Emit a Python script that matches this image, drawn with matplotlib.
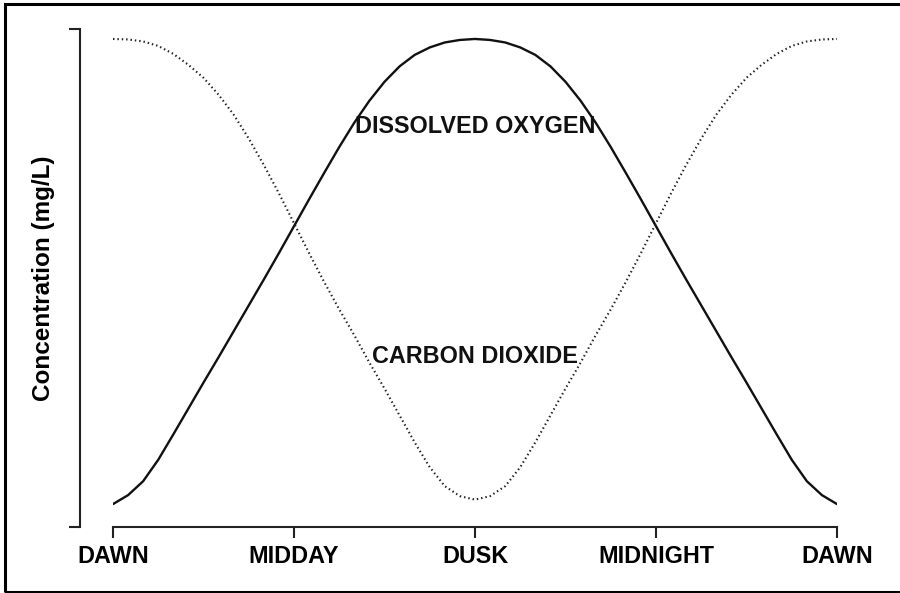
import matplotlib
matplotlib.use("Agg")
import matplotlib.pyplot as plt
from matplotlib.patches import Rectangle

plt.rcParams['font.family'] = ['Liberation Sans', 'DejaVu Sans']

# hours after dawn, every half hour
hours = [0, 0.5, 1.0, 1.5, 2.0, 2.5, 3.0, 3.5, 4.0, 4.5, 5.0, 5.5, 6.0, 6.5, 7.0, 7.5,
         8.0, 8.5, 9.0, 9.5, 10.0, 10.5, 11.0, 11.5, 12.0,
         12.5, 13.0, 13.5, 14.0, 14.5, 15.0, 15.5, 16.0, 16.5, 17.0, 17.5, 18.0,
         18.5, 19.0, 19.5, 20.0, 20.5, 21.0, 21.5, 22.0, 22.5, 23.0, 23.5, 24.0]

# relative concentration
oxygen = [0.46, 0.64, 0.92, 1.35, 1.86, 2.38, 2.90, 3.41, 3.93, 4.45, 4.97, 5.50, 6.04,
          6.58, 7.11, 7.63, 8.12, 8.56, 8.94, 9.25, 9.48, 9.63, 9.73, 9.78, 9.80,
          9.78, 9.73, 9.63, 9.48, 9.25, 8.94, 8.56, 8.12, 7.63, 7.11, 6.58, 6.04,
          5.50, 4.97, 4.45, 3.93, 3.41, 2.90, 2.38, 1.86, 1.35, 0.92, 0.64, 0.46]

co2 = [9.80, 9.79, 9.75, 9.66, 9.50, 9.28, 9.02, 8.68, 8.28, 7.80, 7.27, 6.70, 6.10,
       5.50, 4.92, 4.37, 3.85, 3.30, 2.78, 2.24, 1.70, 1.20, 0.82, 0.62, 0.55,
       0.62, 0.82, 1.20, 1.70, 2.24, 2.78, 3.30, 3.85, 4.37, 4.92, 5.50, 6.10,
       6.70, 7.27, 7.80, 8.28, 8.68, 9.02, 9.28, 9.50, 9.66, 9.75, 9.79, 9.80]

tick_hours = [0, 6, 12, 18, 24]
tick_labels = ["DAWN", "MIDDAY", "DUSK", "MIDNIGHT", "DAWN"]

W, H = 900, 593
fig = plt.figure(figsize=(9, 5.93), dpi=100)
ax = fig.add_axes([113 / W, (H - 527) / H, (837 - 113) / W, (527 - 29) / H])

ax.plot(hours, oxygen, color="#111111", lw=1.7, solid_capstyle="round",
        solid_joinstyle="round")
ax.plot(hours, co2, color="#222222", lw=1.5, linestyle=(0, (0.7, 1.4)))

ax.text(12, 8.05, "DISSOLVED OXYGEN", ha="center", va="center",
        fontsize=16.8, fontweight="bold", color="#111111")
ax.text(12, 3.42, "CARBON DIOXIDE", ha="center", va="center",
        fontsize=16.8, fontweight="bold", color="#111111")

ax.set_xlim(0, 24)
ax.set_ylim(0, 10)

for s in ["top", "right"]:
    ax.spines[s].set_visible(False)
ax.spines["left"].set_position(("outward", 23.8))
ax.spines["left"].set_bounds(0, 10)
ax.spines["bottom"].set_bounds(0, 24)
for s in ["left", "bottom"]:
    ax.spines[s].set_linewidth(1.5)
    ax.spines[s].set_color("#222222")

ax.set_xticks(tick_hours)
ax.set_xticklabels(tick_labels, fontsize=16.8, fontweight="bold")
ax.set_yticks([0, 10])
ax.set_yticklabels([])
ax.tick_params(axis="both", length=8.2, width=1.5, color="#222222")
ax.tick_params(axis="x", pad=5)

ax.set_ylabel("Concentration (mg/L)", fontsize=17.5, fontweight="bold")
ax.yaxis.set_label_coords(-0.08, 0.5)

# frame round the whole picture
fig.patches.append(Rectangle((5 / W, 1.5 / H), 1.0, (589 - 1.5) / H,
                             transform=fig.transFigure, fill=False,
                             edgecolor="black", linewidth=2.2))

fig.savefig("out.png", dpi=100)
